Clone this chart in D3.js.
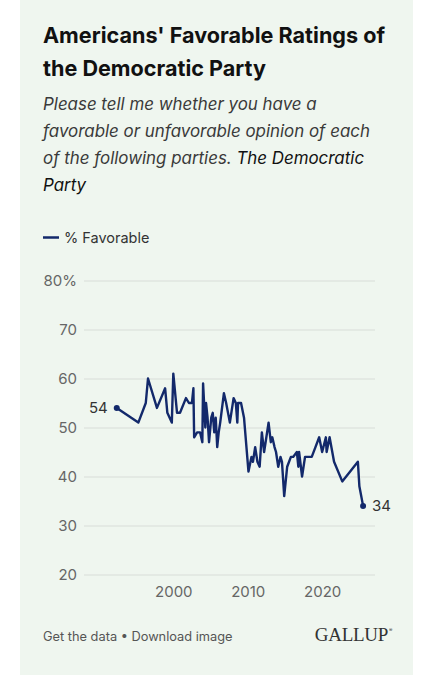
<!DOCTYPE html>
<html>
<head>
<meta charset="utf-8">
<script src="https://cdn.jsdelivr.net/npm/d3@7"></script>
<style>
  body { margin: 0; background: #fff; }
  svg { display: block; font-family: Inter, "Noto Sans", sans-serif; }
</style>
</head>
<body>
<svg id="chart" width="437" height="680"></svg>
<script>
// survey dates as decimal years
const surveyYears = [1992.4, 1995.3, 1996.3, 1996.6, 1997.8, 1998.9, 1999.2, 1999.8, 2000.0, 2000.5,
  2000.9, 2001.7, 2002.1, 2002.5, 2002.7, 2002.8, 2003.2, 2003.6, 2003.9, 2004.0,
  2004.3, 2004.4, 2004.6, 2004.8, 2005.1, 2005.3, 2005.5, 2005.7, 2005.9, 2006.1,
  2006.3, 2006.8, 2007.1, 2007.6, 2008.1, 2008.4, 2008.6, 2008.7, 2009.1, 2009.5,
  2010.1, 2010.5, 2010.7, 2011.0, 2011.3, 2011.6, 2011.9, 2012.2, 2012.4, 2012.8,
  2013.1, 2013.3, 2013.6, 2013.8, 2014.1, 2014.4, 2014.6, 2014.9, 2015.3, 2015.8,
  2016.1, 2016.6, 2016.8, 2016.9, 2017.3, 2017.7, 2018.6, 2019.1, 2019.6, 2020.0,
  2020.5, 2020.6, 2021.0, 2021.6, 2022.7, 2024.8, 2025.0, 2025.5];
// % favorable
const favorable = [54, 51, 55, 60, 54, 58, 53, 51, 61, 53,
  53, 56, 55, 55, 58, 48, 49, 49, 47, 59,
  50, 55, 52, 47, 52, 53, 49, 52, 46, 49,
  51, 57, 55, 51, 56, 55, 51, 55, 55, 52,
  41, 44, 43, 46, 43, 42, 49, 45, 47, 51,
  47, 48, 46, 45, 42, 44, 43, 36, 42, 44,
  44, 45, 42, 45, 40, 44, 44, 46, 48, 45,
  48, 45, 48, 43, 39, 43, 38, 34];
const yTicks = [20, 30, 40, 50, 60, 70, 80];
const xTicks = [2000, 2010, 2020];

const titleLines = ["Americans' Favorable Ratings of", "the Democratic Party"];

const data = surveyYears.map((y, i) => ({ year: y, value: favorable[i] }));

const svg = d3.select('#chart');

// card background
svg.append('rect')
  .attr('x', 20).attr('y', 0)
  .attr('width', 393).attr('height', 675)
  .attr('fill', '#eff6ef');

// title
svg.append('g').selectAll('text')
  .data(titleLines)
  .enter()
  .append('text')
    .attr('x', 43)
    .attr('y', (d, i) => 43 + i * 33)
    .attr('font-size', '21.6px')
    .attr('font-weight', 700)
    .attr('fill', '#111')
    .text(d => d);

// subtitle, italic
const sub = svg.append('g')
  .attr('font-size', '16.9px')
  .attr('font-style', 'italic')
  .attr('fill', '#3a3a3a');
sub.append('text').attr('x', 43).attr('y', 110).text('Please tell me whether you have a');
sub.append('text').attr('x', 43).attr('y', 137).text('favorable or unfavorable opinion of each');
const l3 = sub.append('text').attr('x', 43).attr('y', 164);
l3.append('tspan').text('of the following parties. ');
l3.append('tspan').attr('fill', '#111').text('The Democratic');
sub.append('text').attr('x', 43).attr('y', 191).attr('fill', '#111').text('Party');

// legend
svg.append('line')
  .attr('x1', 43).attr('x2', 59)
  .attr('y1', 237.5).attr('y2', 237.5)
  .attr('stroke', '#13296b').attr('stroke-width', 2.5);
svg.append('text')
  .attr('x', 64).attr('y', 243)
  .attr('font-size', '14.5px')
  .attr('fill', '#333')
  .text('% Favorable');

// scales
const x = d3.scaleLinear().domain([1988, 2027.1]).range([84, 375]);
const y = d3.scaleLinear().domain([20, 80]).range([574.5, 280.5]);

// y axis with gridlines
const yAxis = d3.axisLeft(y)
  .tickValues(yTicks)
  .tickSize(-(375 - 84))
  .tickPadding(7)
  .tickFormat(d => d === 80 ? '80%' : d);

const yg = svg.append('g')
  .attr('transform', 'translate(84,0)')
  .call(yAxis);
yg.select('.domain').remove();
yg.selectAll('line').attr('stroke', '#d8ddd8').attr('stroke-width', 1);
yg.selectAll('text')
  .attr('font-size', '15px')
  .attr('fill', '#666')
  .attr('font-family', 'Inter, "Noto Sans", sans-serif');

// x axis, labels only
const xAxis = d3.axisBottom(x)
  .tickValues(xTicks)
  .tickSize(0)
  .tickPadding(0)
  .tickFormat(d3.format('d'));
const xg = svg.append('g')
  .attr('transform', 'translate(0,586)')
  .call(xAxis);
xg.select('.domain').remove();
xg.selectAll('text')
  .attr('font-size', '15px')
  .attr('fill', '#666')
  .attr('font-family', 'Inter, "Noto Sans", sans-serif');

// the line
const line = d3.line()
  .x(d => x(d.year))
  .y(d => y(d.value));

svg.append('path')
  .datum(data)
  .attr('d', line)
  .attr('fill', 'none')
  .attr('stroke', '#13296b')
  .attr('stroke-width', 2.4)
  .attr('stroke-linejoin', 'round');

// first and last points with labels
const ends = [data[0], data[data.length - 1]];
svg.append('g').selectAll('circle')
  .data(ends)
  .enter()
  .append('circle')
    .attr('cx', d => x(d.year))
    .attr('cy', d => y(d.value))
    .attr('r', 3)
    .attr('fill', '#13296b');

svg.append('g').selectAll('text')
  .data(ends)
  .enter()
  .append('text')
    .attr('x', (d, i) => i === 0 ? x(d.year) - 9 : x(d.year) + 9)
    .attr('y', d => y(d.value))
    .attr('dy', '0.35em')
    .attr('text-anchor', (d, i) => i === 0 ? 'end' : 'start')
    .attr('font-size', '15px')
    .attr('fill', '#333')
    .text(d => d.value);

// footer
svg.append('text')
  .attr('x', 43).attr('y', 641)
  .attr('font-size', '12.8px')
  .attr('fill', '#555')
  .text('Get the data \u2022 Download image');

svg.append('text')
  .attr('x', 388).attr('y', 641)
  .attr('text-anchor', 'end')
  .attr('font-family', '"Liberation Serif", "DejaVu Serif", serif')
  .attr('font-size', '19px')
  .attr('letter-spacing', '-0.3px')
  .attr('fill', '#333')
  .text('GALLUP');
svg.append('text')
  .attr('x', 389).attr('y', 632)
  .attr('font-size', '5px')
  .attr('fill', '#333')
  .text('\u00AE');
</script>
</body>
</html>
